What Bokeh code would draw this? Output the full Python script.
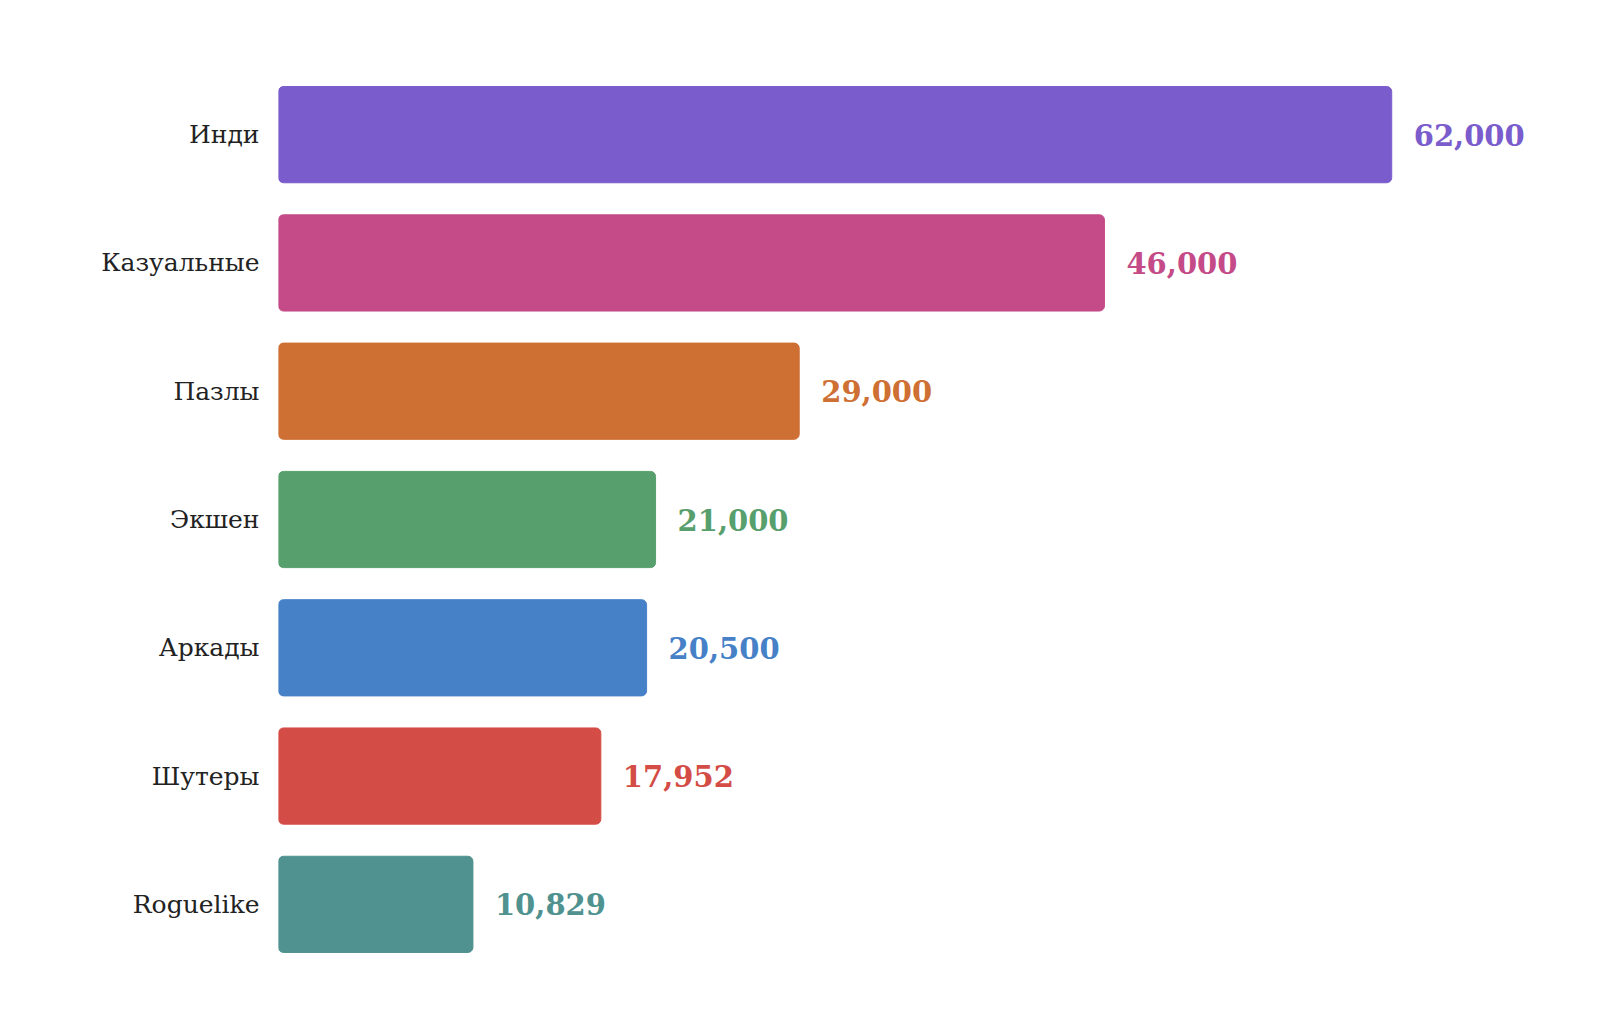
from bokeh.plotting import figure
from bokeh.models import ColumnDataSource, FactorRange, Range1d
from bokeh.embed import file_html
from bokeh.resources import INLINE

# Data
genres = ["Инди", "Казуальные", "Пазлы", "Экшен", "Аркады", "Шутеры", "Roguelike"]
players = [62000, 46000, 29000, 21000, 20500, 17952, 10829]
colors = ["#7a5ccc", "#c44b87", "#ce6f33", "#57a06d", "#4681c8", "#d44c46", "#50928f"]

source = ColumnDataSource(data=dict(
    genre=genres,
    players=players,
    color=colors,
    label=[f"{v:,}" for v in players],
))

p = figure(y_range=FactorRange(factors=genres[::-1], range_padding=0),
           x_range=Range1d(0, 71400),
           width=1584, height=994,
           x_axis_location=None,
           toolbar_location=None, output_backend="svg",
           min_border_left=278, min_border_right=24,
           min_border_top=70, min_border_bottom=26)

# Bars
p.hbar(y="genre", left=0, right="players", height=0.75, source=source,
       fill_color="color", line_color="color", line_width=1,
       border_radius=5)

# Value labels right of each bar
p.text(x="players", y="genre", text="label", source=source,
       text_color="color", text_font_size="29px", text_font_style="bold",
       text_font={"value": "DejaVu Serif"},
       text_baseline="middle", text_align="left", x_offset=22)

# Category labels on the y axis
p.yaxis.axis_line_color = None
p.yaxis.major_tick_line_color = None
p.yaxis.minor_tick_line_color = None
p.yaxis.major_label_standoff = 13
p.yaxis.major_label_text_font = "DejaVu Serif"
p.yaxis.major_label_text_font_size = "25px"
p.yaxis.major_label_text_color = "#222222"

p.xgrid.grid_line_color = None
p.ygrid.grid_line_color = None
p.outline_line_color = None

open("out.html", "w").write(file_html(p, INLINE))
